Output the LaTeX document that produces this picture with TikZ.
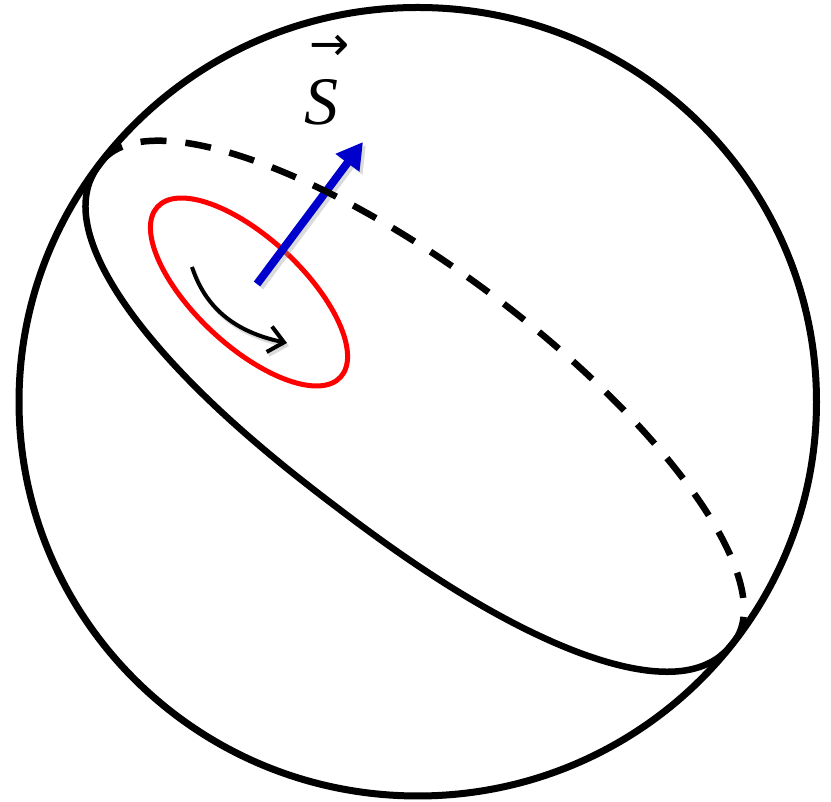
\documentclass[tikz,border=0pt]{standalone}
\usepackage{fontspec}
\setmainfont{Liberation Serif}
\newfontfamily\arrowfont{DejaVu Sans}
\usetikzlibrary{arrows.meta}
\definecolor{spinblue}{RGB}{0,0,204}
\begin{document}
\begin{tikzpicture}[x=1pt,y=1pt,
  sphere/.style={line width=7pt},
  frontarc/.style={line width=6.5pt},
  backarc/.style={line width=6.5pt, dash pattern=on 26pt off 19pt},
  loopring/.style={draw=red, line width=5pt},
  spinvec/.style={draw=spinblue, line width=8pt, -{Triangle[length=26pt,width=28pt,fill=spinblue]}},
  rotarrow/.style={line width=4pt, -{Straight Barb[length=15pt,width=26pt,line width=4pt]}},
  softshadow/.style={black!40, opacity=0.35},
]
\useasboundingbox (0,0) rectangle (831,802);
% sphere outline
\draw[sphere] (417.75,400.25) ellipse [x radius=398.75, y radius=394.25];
% current loop
\begin{scope}[shift={(249,510)}, rotate=-43]
  \draw[loopring] (0,0) ellipse [x radius=125, y radius=54];
\end{scope}
% spin vector
\coordinate (spinbase) at (257,518);
\coordinate (spintip) at (363,660);
\draw[spinvec, softshadow, draw=black!40, -{Triangle[length=26pt,width=28pt]}] ([shift={(3,-3)}]spinbase) -- ([shift={(3,-3)}]spintip);
\draw[spinvec] (spinbase) -- (spintip);
% great circle: back (dashed) and front (solid)
\begin{scope}[shift={(417.75,400.25)}, yscale=0.9887, rotate=-37.5]
  \draw[backarc] plot[domain=180:0, samples=120, smooth] ({398.75*cos(\x)},{131*sin(\x)});
  \draw[frontarc] plot[domain=180.2:359.8, samples=120, smooth]
    ({398.75*cos(\x)*abs(cos(\x))^(-0.1304)},{-134*abs(sin(\x))^(0.8696)});
\end{scope}
% rotation arrow
\coordinate (rotA) at (192,535);
\coordinate (rotB) at (287,459);
\draw[rotarrow, softshadow] ([shift={(2,-3)}]rotA) to[out=-72, in=168] ([shift={(2,-3)}]rotB);
\draw[rotarrow] (rotA) to[out=-72, in=168] (rotB);
% label
\node[inner sep=0, anchor=base] (slabel) at (321,677) {\fontsize{68}{68}\selectfont\itshape S};
\begin{scope}[shift={(330,754)}]
  \node[inner sep=0, scale=4, transform shape] (sarrow) at (0,0) {\arrowfont\fontsize{12}{12}\selectfont →};
\end{scope}
\end{tikzpicture}
\end{document}
